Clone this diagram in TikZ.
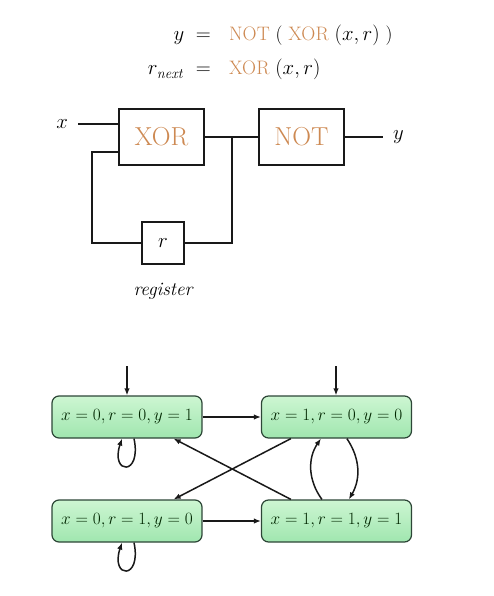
\documentclass[tikz,border=0pt]{standalone}
\usetikzlibrary{arrows.meta}
\definecolor{orng}{RGB}{205,137,82}
\definecolor{stroke}{RGB}{25,25,25}
\definecolor{gtop}{RGB}{205,246,210}
\definecolor{gbot}{RGB}{160,230,175}
\definecolor{gborder}{RGB}{45,70,55}
\begin{document}
\begin{tikzpicture}[x=1pt,y=-1pt,
  wire/.style={draw=stroke,line width=2pt},
  gate/.style={draw=stroke,line width=2pt,minimum width=85pt,minimum height=56pt,inner sep=0pt,text=orng,font=\fontsize{26}{28}\selectfont},
  regbox/.style={draw=stroke,line width=2pt,minimum width=42pt,minimum height=42pt,inner sep=0pt,font=\fontsize{21}{24}\selectfont},
  lbl/.style={inner ysep=2pt,inner xsep=10pt,font=\fontsize{21}{24}\selectfont},
  eq/.style={inner sep=0pt,font=\fontsize{19.5}{22}\selectfont},
  state/.style={draw=gborder,line width=1.2pt,rounded corners=7pt,minimum width=150pt,minimum height=42pt,inner sep=0pt,top color=gtop,bottom color=gbot,text=black!85!green,font=\fontsize{18.5}{20}\selectfont},
  arr/.style={draw=stroke,line width=1.5pt,-{Latex[length=7pt,width=5.5pt]}}
]
\useasboundingbox (0,0) rectangle (494,596);

% equations
\node[eq,anchor=base east] (l1) at (211,41) {$y\;=$};
\node[eq,anchor=base west] (r1) at (229,41) {\textcolor{orng}{NOT} ( \textcolor{orng}{XOR} $(x,r)$ )};
\node[eq,anchor=base east] (l2) at (211,75) {$r_{\mathit{next}}\;=$};
\node[eq,anchor=base west] (r2) at (229,75) {\textcolor{orng}{XOR} $(x,r)$};

% circuit
\node[gate] (xor) at (161.5,137) {XOR};
\node[gate] (not) at (301.5,137) {NOT};
\node[regbox] (reg) at (163,243) {$r$};
\node[lbl,anchor=east] (xl) at (78,124) {$x$};
\node[lbl,anchor=west] (yl) at (383,137) {$y$};
\node[inner sep=0pt,font=\fontsize{19}{22}\selectfont\itshape] (regl) at (163,291) {register};
\coordinate (j) at (232,137);
\draw[wire] (xl.east) -- (xor.west |- xl.east);
\draw[wire] (xor.east) -- (not.west);
\draw[wire] (not.east) -- (yl.west);
\draw[wire] ([yshift=-15pt]xor.west) -- ++(-26,0) |- (reg.west);
\draw[wire] (reg.east) -| (j);

% state diagram
\node[state] (A) at (127,417) {$x=0,r=0,y=1$};
\node[state] (B) at (336.5,417) {$x=1,r=0,y=0$};
\node[state] (C) at (127,521) {$x=0,r=1,y=0$};
\node[state] (D) at (336.5,521) {$x=1,r=1,y=1$};
\coordinate (ia) at (127,366);
\coordinate (ib) at (336,366);
\draw[arr] (ia) -- (A.north);
\draw[arr] (ib) -- (B.north -| ib);
\draw[arr] (A.east) -- (B.west);
\draw[arr] (C.east) -- (D.west);
\draw[arr] ([xshift=30pt]B.south west) -- ([xshift=-29pt]C.north east);
\draw[arr] ([xshift=30pt]D.north west) -- ([xshift=-29pt]A.south east);
\draw[arr] ([xshift=61pt]D.north west) to[bend left=35] ([xshift=60pt]B.south west);
\draw[arr] ([xshift=86pt]B.south west) to[bend left=32] ([xshift=88pt]D.north west);
\draw[arr] ([xshift=7pt]A.south) .. controls +(8,38) and +(-12,36) .. ([xshift=-5pt]A.south);
\draw[arr] ([xshift=7pt]C.south) .. controls +(8,38) and +(-12,36) .. ([xshift=-5pt]C.south);
\end{tikzpicture}
\end{document}
